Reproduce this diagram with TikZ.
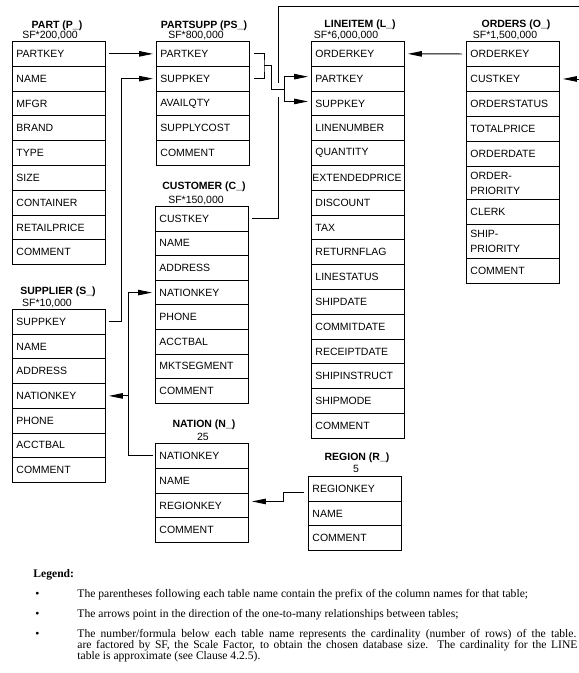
\documentclass[tikz,border=0pt]{standalone}
\usepackage{fontspec}
\setmainfont{Liberation Serif}
\setsansfont{Liberation Sans}
\usetikzlibrary{arrows.meta}

\tikzset{
  row/.style={draw, anchor=north west, minimum width=93pt, minimum height=24.8pt,
    text width=85pt, inner xsep=4pt, inner ysep=0pt, align=left,
    font=\sffamily\fontsize{10.5}{15}\selectfont},
  ttl/.style={anchor=base, inner sep=0pt, font=\sffamily\bfseries\fontsize{10.5}{12}\selectfont},
  card/.style={anchor=base, inner sep=0pt, font=\sffamily\fontsize{10.5}{12}\selectfont},
  fk/.style={-{Triangle[length=14pt,width=5.5pt]}},
  legend/.style={anchor=base west, inner sep=0pt, font=\fontsize{11.6}{13}\selectfont},
}

\begin{document}
\begin{tikzpicture}[x=1pt, y=-1pt, line width=0.9pt]
  \useasboundingbox (0,0) rectangle (579,673);

  % Table headers
  \node[ttl] (pt) at (57,28) {PART (P\_)};
  \node[card] (pc) at (50,38.5) {SF*200,000};
  \node[ttl] (pst) at (204,28) {PARTSUPP (PS\_)};
  \node[card] (psc) at (196,38.5) {SF*800,000};
  \node[ttl] (ct) at (204,189) {CUSTOMER (C\_)};
  \node[card] (cc) at (196,203.5) {SF*150,000};
  \node[ttl] (st) at (58,294.3) {SUPPLIER (S\_)};
  \node[card] (sc) at (47,306.5) {SF*10,000};
  \node[ttl] (nt) at (204,427.5) {NATION (N\_)};
  \node[card] (nc) at (203,440) {25};
  \node[ttl] (lt) at (360,27) {LINEITEM (L\_)};
  \node[card] (lc) at (346,38.5) {SF*6,000,000};
  \node[ttl] (ot) at (516,27) {ORDERS (O\_)};
  \node[card] (oc) at (505,38.5) {SF*1,500,000};
  \node[ttl] (rt) at (357,460) {REGION (R\_)};
  \node[card] (rc) at (356,472.5) {5};

  % Columns
  \foreach \t [count=\i] in {PARTKEY,NAME,MFGR,BRAND,TYPE,SIZE,CONTAINER,RETAILPRICE,COMMENT}
    \node[row] (p\i) at (12,{41+24.8*(\i-1)}) {\t};
  \foreach \t [count=\i] in {PARTKEY,SUPPKEY,AVAILQTY,SUPPLYCOST,COMMENT}
    \node[row] (ps\i) at (156,{41+24.8*(\i-1)}) {\t};
  \foreach \t [count=\i] in {CUSTKEY,NAME,ADDRESS,NATIONKEY,PHONE,ACCTBAL,MKTSEGMENT,COMMENT}
    \node[row, minimum height=24.6pt] (c\i) at (155,{206+24.6*(\i-1)}) {\t};
  \foreach \t [count=\i] in {SUPPKEY,NAME,ADDRESS,NATIONKEY,PHONE,ACCTBAL,COMMENT}
    \node[row, minimum height=24.7pt] (s\i) at (12,{309+24.7*(\i-1)}) {\t};
  \foreach \t [count=\i] in {NATIONKEY,NAME,REGIONKEY,COMMENT}
    \node[row] (n\i) at (155,{443+24.8*(\i-1)}) {\t};
  \foreach \t [count=\i] in {ORDERKEY,PARTKEY,SUPPKEY,LINENUMBER,QUANTITY,{\mbox{\hspace*{-3pt}EXTENDEDPRICE}},
      DISCOUNT,TAX,RETURNFLAG,LINESTATUS,SHIPDATE,COMMITDATE,RECEIPTDATE,SHIPINSTRUCT,SHIPMODE,COMMENT}
    \node[row] (l\i) at (311,{41+24.8*(\i-1)}) {\t};
  \foreach \t/\y/\h [count=\i] in {ORDERKEY/41/25, CUSTKEY/66/25, ORDERSTATUS/91/25,
      TOTALPRICE/116/25, ORDERDATE/141/25, {ORDER-\\PRIORITY}/166/33, CLERK/199/25,
      {SHIP-\\PRIORITY}/224/34, COMMENT/258/25}
    \node[row, minimum height=\h pt] (o\i) at (466,\y) {\t};
  \foreach \t [count=\i] in {REGIONKEY,NAME,COMMENT}
    \node[row, minimum height=24.7pt] (r\i) at (308,{476+24.7*(\i-1)}) {\t};

  % Keys
  \coordinate (psj) at (264,65.8);
  \coordinate (lj) at (284,89);
  \coordinate (gapt) at (278,83);
  \coordinate (gapb) at (278,97);
  \coordinate (ctop) at (583,6);
  \coordinate (nbus) at (128,0);

  \draw[fk] ([xshift=3pt]p1.east) -- ([xshift=-3pt]ps1.west);
  \draw[fk] ([xshift=3pt]s1.east) -- ++(13,0) |- ([xshift=-3pt]ps2.west);
  \draw ([xshift=4pt]ps1.east) -| (psj) |- ([xshift=4pt]ps2.east);
  \draw (psj) -- ++(7,0) |- (lj);
  \draw[fk] (lj) |- ([xshift=-3pt,yshift=2pt]l2.west);
  \draw[fk] (lj) |- ([xshift=-3pt,yshift=2pt]l3.west);
  \draw ([xshift=3pt]c1.east) -| (gapb);
  \draw[fk] (gapt) |- (ctop) |- ([xshift=3pt]o2.east);
  \draw[fk] ([xshift=-4pt]o1.west) -- ([xshift=3pt]l1.east);
  \draw[fk] ([xshift=-2pt]n1.west) -- ++(-25,0) |- ([xshift=-3pt]c4.west);
  \draw[fk] (s4.east -| nbus) -- ([xshift=3pt]s4.east);
  \draw[fk] ([xshift=-4pt,yshift=-3.5pt]r1.west) -- ++(-21,0) |- ([xshift=3pt,yshift=4pt]n3.east);

  % Legend
  \node[legend, font=\bfseries\fontsize{11.6}{13}\selectfont] (leg) at (33,577) {Legend:};
  \node[legend] (b1) at (35,597) {\textbullet};
  \node[legend] (b2) at (35,617) {\textbullet};
  \node[legend] (b3) at (35,637) {\textbullet};
  \node[legend] (t1) at (77,597) {The parentheses following each table name contain the prefix of the column names for that table;};
  \node[legend] (t2) at (77,617) {The arrows point in the direction of the one-to-many relationships between tables;};
  \node[legend] (t3) at (77,637) {\makebox[499pt][s]{The number/formula below each table name represents the cardinality (number of rows) of the table.}};
  \node[legend] (t4) at (77,648.3) {\makebox[500pt][s]{are factored by SF, the Scale Factor, to obtain the chosen database size. The cardinality for the LINE}};
  \node[legend] (t5) at (77,659.3) {table is approximate (see Clause 4.2.5).};
\end{tikzpicture}
\end{document}
